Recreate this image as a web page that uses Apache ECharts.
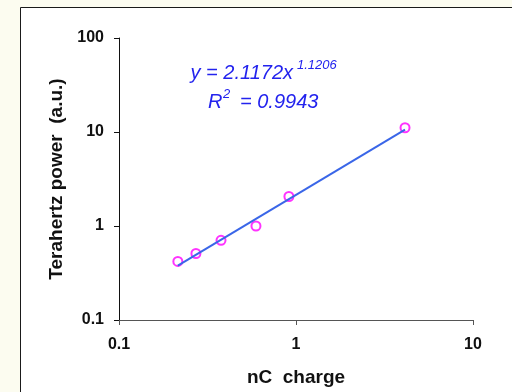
<!DOCTYPE html>
<html>
<head>
<meta charset="utf-8">
<script src="https://cdn.jsdelivr.net/npm/echarts@6/dist/echarts.min.js"></script>
<style>
  html, body { margin: 0; padding: 0; background: #fcfcf0; }
  #chart { width: 512px; height: 392px; }
</style>
</head>
<body>
<div id="chart"></div>
<script>
// measured points (nC charge, THz power)
const chargeNC = [0.215, 0.272, 0.377, 0.594, 0.912, 4.13];
const thzPower = [0.42, 0.51, 0.705, 1.0, 2.06, 11.1];

// power-law fit line, endpoints
const fitX = [0.215, 4.13];
const fitY = [0.378, 10.6];

const xTicks = ['0.1', '1', '10'];
const yTicks = ['0.1', '1', '10', '100'];

const fitLabel = 'y = 2.1172x';
const fitExp = '1.1206';
const r2Value = '= 0.9943';

const FONT = 'Liberation Sans, Arial, sans-serif';
const EQ_BLUE = '#2323ee';

const chart = echarts.init(document.getElementById('chart'));

const points = chargeNC.map((c, i) => [c, thzPower[i]]);
const fit = fitX.map((x, i) => [x, fitY[i]]);

const eqText = (text, x, y, size, align) => ({
  type: 'text',
  z: 10,
  style: {
    text, x, y,
    fill: EQ_BLUE,
    fontFamily: FONT,
    fontStyle: 'italic',
    fontSize: size,
    align: align || 'left',
    verticalAlign: 'middle'
  }
});

chart.setOption({
  animation: false,
  backgroundColor: '#fcfcf0',
  grid: { left: 119, top: 38, right: 39, bottom: 71, containLabel: false },
  graphic: [
    {
      type: 'rect',
      z: -10,
      shape: { x: 20.5, y: 7.5, width: 600, height: 500 },
      style: { fill: '#ffffff', stroke: '#1a1a1a', lineWidth: 1 }
    },
    eqText(fitLabel, 293, 73, 20, 'right'),
    eqText(fitExp, 297, 65, 13),
    eqText('R', 208, 102, 20),
    eqText('2', 223, 94, 13),
    eqText(r2Value, 240, 102, 20)
  ],
  xAxis: {
    type: 'log',
    logBase: 10,
    min: 0.1,
    max: 10,
    name: 'nC  charge',
    nameLocation: 'middle',
    nameGap: 48,
    nameTextStyle: { fontFamily: FONT, fontWeight: 'bold', fontSize: 19, color: '#111' },
    axisLine: { lineStyle: { color: '#555', width: 1 } },
    axisTick: { inside: false, length: 5, lineStyle: { color: '#555' } },
    axisLabel: {
      margin: 17,
      fontFamily: FONT, fontWeight: 'bold', fontSize: 16, color: '#111',
      formatter: (v) => xTicks[Math.round(Math.log10(v)) + 1]
    },
    splitLine: { show: false }
  },
  yAxis: {
    type: 'log',
    logBase: 10,
    min: 0.1,
    max: 100,
    name: 'Terahertz power  (a.u.)',
    nameLocation: 'middle',
    nameGap: 50,
    nameTextStyle: { fontFamily: FONT, fontWeight: 'bold', fontSize: 19, color: '#111' },
    axisLine: { show: true, lineStyle: { color: '#111', width: 1 } },
    axisTick: { show: true, inside: false, length: 5, lineStyle: { color: '#111' } },
    axisLabel: {
      margin: 15,
      fontFamily: FONT, fontWeight: 'bold', fontSize: 16, color: '#111',
      formatter: (v) => yTicks[Math.round(Math.log10(v)) + 1]
    },
    splitLine: { show: false }
  },
  series: [
    {
      type: 'line',
      data: fit,
      symbol: 'none',
      lineStyle: { color: '#3a66e8', width: 2 }
    },
    {
      type: 'scatter',
      data: points,
      symbol: 'emptyCircle',
      symbolSize: 9,
      itemStyle: { color: '#ff00ff', borderColor: '#ff00ff', borderWidth: 1 }
    }
  ]
});
</script>
</body>
</html>
